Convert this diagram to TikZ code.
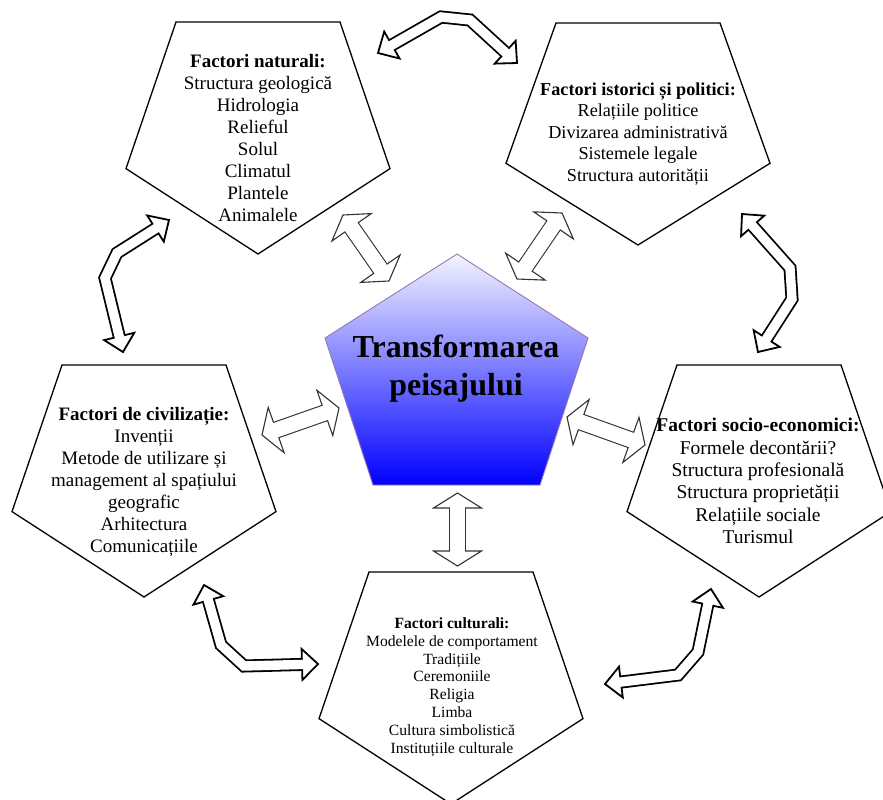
\documentclass[tikz,border=0pt]{standalone}
\usepackage{fontspec}
\setmainfont{Liberation Serif}
\usetikzlibrary{calc}
\definecolor{coreline}{RGB}{150,120,180}
\definecolor{coretop}{RGB}{244,244,255}
\tikzset{%
  box/.style = {draw,line width=1.3pt,line join=miter},
  core/.style = {draw=coreline,line width=0.9pt,top color=coretop,
        bottom color=blue},
  factor/.style = {align=center,inner sep=0pt,
        font=\fontsize{19}{22}\selectfont},
  head/.style = {draw,fill=white,line width=1.8pt,line join=miter},
  shaftout/.style = {line width=13pt,black,line join=miter},
  shaftin/.style = {line width=9.4pt,white,line join=miter,
        shorten <=-2pt,shorten >=-2pt}
}
% head at #1 pointing away from #2, base named #3
\newcommand{\headat}[5]{%
  \coordinate (#3) at ($(#1)!#4!(#2)$);
  \draw[head] (#1) -- ($(#3)!#5!90:(#1)$) -- ($(#3)!#5!-90:(#1)$) -- cycle;}
\newcommand{\shaftalong}[1]{\draw[shaftout] #1; \draw[shaftin] #1;}
\newcommand{\pentagon}[3]{%
  \draw[box] (#1-82,#2) -- (#1+82,#2) -- (#1+132,#2+0.632*#3)
        -- (#1,#2+#3) -- (#1-132,#2+0.632*#3) -- cycle;}

\begin{document}
\begin{tikzpicture}[x=1pt,y=-1pt]
    \useasboundingbox (0,0) rectangle (883,800);
    % factor boxes
    \pentagon{258}{22}{232}
    \pentagon{638}{23}{222}
    \pentagon{144}{365}{232}
    \pentagon{759}{365}{232}
    \pentagon{451}{572}{232}
    \draw[core] (457,254) -- (588,338) -- (540,485) -- (373,485)
        -- (325,338) -- cycle;
    \node[font=\bfseries\fontsize{32}{38}\selectfont,align=center]
        (core) at (456,369) {Transformarea\\peisajului};
    \node[factor] (nat) at (258,138) {\textbf{Factori naturali:}\\
        Structura geologică\\Hidrologia\\Relieful\\Solul\\Climatul\\
        Plantele\\Animalele};
    \node[factor,font=\fontsize{18.2}{21.5}\selectfont] (ist) at (638,134)
        {\textbf{Factori istorici și politici:}\\Relațiile politice\\
        Divizarea administrativă\\Sistemele legale\\Structura autorității};
    \node[factor] (civ) at (144,482) {\textbf{Factori de civilizație:}\\
        Invenții\\Metode de utilizare și\\management al spațiului\\
        geografic\\Arhitectura\\Comunicațiile};
    \node[factor,font=\fontsize{19.5}{22.4}\selectfont] (soc) at (758,481)
        {\textbf{Factori socio-economici:}\\Formele decontării?\\
        Structura profesională\\Structura proprietății\\Relațiile sociale\\
        Turismul};
    \node[factor,font=\fontsize{15.6}{17.8}\selectfont] (cul) at (452,687)
        {\textbf{Factori culturali:}\\Modelele de comportament\\Tradițiile\\
        Ceremoniile\\Religia\\Limba\\Cultura simbolistică\\
        Instituțiile culturale};

    % arrow ends
    \coordinate (nat-ist) at (378,53);
    \coordinate (ist-nat) at (517,63);
    \coordinate (ist-soc) at (742,214);
    \coordinate (soc-ist) at (758,352);
    \coordinate (nat-civ) at (169,220);
    \coordinate (civ-nat) at (123,352);
    \coordinate (civ-cul) at (204,585);
    \coordinate (cul-civ) at (318,664);
    \coordinate (soc-cul) at (711,589);
    \coordinate (cul-soc) at (605,684);

    % bent arrows round the ring
    \headat{nat-ist}{441,17}{a1}{16pt}{15.5pt}
    \headat{ist-nat}{470,20}{a2}{16pt}{15.5pt}
    \shaftalong{(a1) -- (441,17) -- (470,20) -- (a2)}
    \headat{ist-soc}{790,268}{b1}{16pt}{15.5pt}
    \headat{soc-ist}{792,299}{b2}{16pt}{15.5pt}
    \shaftalong{(b1) -- (790,268) -- (792,299) -- (b2)}
    \headat{nat-civ}{117,253}{c1}{16pt}{15.5pt}
    \headat{civ-nat}{105,278}{c2}{16pt}{15.5pt}
    \shaftalong{(c1) -- (117,253) -- (105,278) -- (c2)}
    \headat{civ-cul}{221,645}{d1}{16pt}{15.5pt}
    \headat{cul-civ}{244,666}{d2}{16pt}{15.5pt}
    \shaftalong{(d1) -- (221,645) -- (244,666) -- (d2)}
    \headat{soc-cul}{698,652}{e1}{16pt}{15.5pt}
    \headat{cul-soc}{678,675}{e2}{16pt}{15.5pt}
    \shaftalong{(e1) -- (698,652) -- (678,675) -- (e2)}

    % straight arrows to the centre
    \begin{scope}[head/.style={draw=black!80,fill=white,line width=1.1pt},
        shaftout/.style={line width=17.2pt,black!80},
        shaftin/.style={line width=15pt,white,shorten <=-2pt,
        shorten >=-2pt}]
    \coordinate (nat-core) at (343,215);
    \coordinate (core-nat) at (389,281);
    \coordinate (ist-core) at (562,213);
    \coordinate (core-ist) at (517,279);
    \coordinate (civ-core) at (262,435);
    \coordinate (core-civ) at (339,408);
    \coordinate (soc-core) at (645,445);
    \coordinate (core-soc) at (567,417);
    \coordinate (cul-core) at (457.5,566);
    \coordinate (core-cul) at (457.5,493);
    \foreach \a/\b in {nat-core/core-nat,ist-core/core-ist,
        civ-core/core-civ,soc-core/core-soc,cul-core/core-cul}{
        \headat{\a}{\b}{\a-b}{15pt}{24pt}
        \headat{\b}{\a}{\b-b}{15pt}{24pt}
        \shaftalong{(\a-b) -- (\b-b)}
    }
    \end{scope}
\end{tikzpicture}
\end{document}
